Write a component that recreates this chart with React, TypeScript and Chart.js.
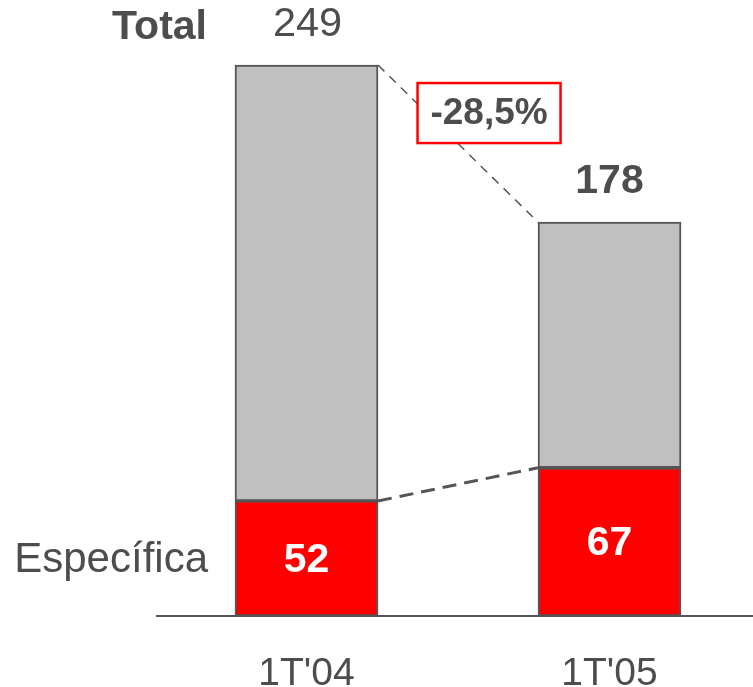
import React, { useEffect, useRef } from "react";
import { Chart, registerables } from "chart.js";

Chart.register(...registerables);

const categories = ["1T'04", "1T'05"];
const especifica = [52, 67];
const resto = [197, 111];
const totals = [249, 178];
const totalLabel = "Total";
const especificaLabel = "Específica";
const changeLabel = "-28,5%";

const FONT = "'Liberation Sans', Arial, Helvetica, sans-serif";
const TEXT = "#4d4d4d";

const overlay = {
  id: "overlay",
  afterDatasetsDraw(chart: any) {
    const ctx = chart.ctx;
    const mr = chart.getDatasetMeta(0).data;
    const mg = chart.getDatasetMeta(1).data;
    const w = mr[0].width;
    ctx.save();
    ctx.strokeStyle = "#555555";
    // upper dashed
    ctx.lineWidth = 1.5;
    ctx.setLineDash([9, 7]);
    ctx.beginPath();
    ctx.moveTo(mg[0].x + w / 2, mg[0].y);
    ctx.lineTo(mg[1].x - w / 2, mg[1].y);
    ctx.stroke();
    // lower dashed
    ctx.lineWidth = 3;
    ctx.setLineDash([14, 8]);
    ctx.beginPath();
    ctx.moveTo(mr[0].x + w / 2, mr[0].y);
    ctx.lineTo(mr[1].x - w / 2, mr[1].y);
    ctx.stroke();
    ctx.setLineDash([]);

    ctx.textBaseline = "middle";
    ctx.textAlign = "center";
    ctx.fillStyle = TEXT;
    ctx.font = `41.5px ${FONT}`;
    ctx.fillText(String(totals[0]), mg[0].x + 1, mg[0].y - 40);
    ctx.font = `bold 41px ${FONT}`;
    ctx.fillText(String(totals[1]), mg[1].x, mg[1].y - 40);
    ctx.textAlign = "right";
    ctx.fillText(totalLabel, mg[0].x - w / 2 - 28, mg[0].y - 37);
    ctx.font = `42px ${FONT}`;
    ctx.fillText(especificaLabel, mr[0].x - w / 2 - 27, (mr[0].y + mr[0].base) / 2 + 2);

    ctx.textAlign = "center";
    ctx.fillStyle = "#ffffff";
    ctx.font = `bold 41px ${FONT}`;
    for (let i = 0; i < mr.length; i++) {
      ctx.fillText(String(especifica[i]), mr[i].x, (mr[i].y + mr[i].base) / 2 + 2);
    }

    // change box
    const x1 = mg[0].x + w / 2;
    const x2 = mg[1].x - w / 2;
    const cx = x1 + (x2 - x1) * 0.694;
    const cy = mg[0].y + 48;
    const bw = 143;
    const bh = 60;
    ctx.fillStyle = "#ffffff";
    ctx.fillRect(cx - bw / 2, cy - bh / 2, bw, bh);
    ctx.strokeStyle = "#ff0000";
    ctx.lineWidth = 2.5;
    ctx.strokeRect(cx - bw / 2, cy - bh / 2, bw, bh);
    ctx.fillStyle = TEXT;
    ctx.font = `bold 37px ${FONT}`;
    ctx.fillText(changeLabel, cx, cy + 1);
    ctx.restore();
  },
};

export default function App() {
  const ref = useRef<HTMLCanvasElement | null>(null);
  useEffect(() => {
    const chart = new Chart(ref.current as HTMLCanvasElement, {
      type: "bar",
      data: {
        datasets: [
          {
            label: especificaLabel,
            data: categories.map((_, i) => ({ x: i, y: especifica[i] })),
            backgroundColor: "#ff0000",
            borderColor: "#555555",
            borderWidth: 2,
            borderSkipped: false,
            barThickness: 143,
          },
          {
            label: totalLabel,
            data: categories.map((_, i) => ({ x: i, y: resto[i] })),
            backgroundColor: "#c0c0c0",
            borderColor: "#555555",
            borderWidth: 2,
            borderSkipped: false,
            barThickness: 143,
          },
        ],
      } as any,
      options: {
        animation: false,
        responsive: false,
        layout: { padding: { left: 157, right: 0, top: 0, bottom: 0 } },
        plugins: { legend: { display: false }, tooltip: { enabled: false } },
        scales: {
          x: {
            type: "linear",
            stacked: true,
            offset: false,
            bounds: "data",
            min: -0.4934,
            max: 1.4736,
            grid: { display: false, offset: false },
            border: { display: true, color: "#555555", width: 2 },
            afterBuildTicks: (scale: any) => {
              scale.ticks = categories.map((_, i) => ({ value: i }));
            },
            afterFit: (scale: any) => {
              scale.height = 71;
            },
            ticks: {
              padding: 27,
              color: TEXT,
              font: { family: FONT, size: 39 },
              autoSkip: false,
              maxRotation: 0,
              callback: (v: any) => categories[Math.round(Number(v))] ?? "",
            },
          },
          y: {
            stacked: true,
            display: false,
            min: 0,
            max: 278.4,
          },
        },
      } as any,
      plugins: [overlay],
    });
    return () => chart.destroy();
  }, []);
  return (
    <div style={{ position: "absolute", left: 0, top: 0, width: 753, height: 687, background: "#fff" }}>
      <canvas ref={ref} width={753} height={687} style={{ display: "block" }} />
    </div>
  );
}
